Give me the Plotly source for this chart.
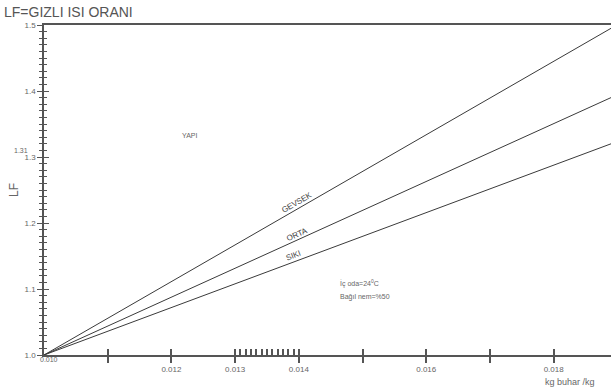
import numpy as np
import plotly.graph_objects as go

# ---- data ----
x_vals = [0.010, 0.0189]           # kg buhar / kg
gevsek = [1.0, 1.495]
orta = [1.0, 1.390]
siki = [1.0, 1.320]

x_tickvals = [0.011, 0.012, 0.013, 0.014, 0.015, 0.016, 0.017, 0.018]
x_ticktext = ["", "0.012", "0.013", "0.014", "", "0.016", "", "0.018"]
x_minor = [0.013 + k / 12 * 0.001 for k in range(1, 12)]
y_tickvals = [1.0, 1.1, 1.2, 1.3, 1.4, 1.5]
y_ticktext = ["1.0", "1.1", "1.2", "1.3", "1.4", "1.5"]

X_RANGE = [0.010, 0.0189]
Y_RANGE = [1.0, 1.5]

LINE_C = "#3a3a3a"
AX_C = "#555555"
TXT_C = "#666666"
FONT = "Liberation Sans, Arial, sans-serif"

fig = go.Figure()
for name, ys in [("GEVŞEK", gevsek), ("ORTA", orta), ("SIKI", siki)]:
    fig.add_trace(go.Scatter(x=x_vals, y=ys, mode="lines", name=name,
                             line=dict(color=LINE_C, width=1), hoverinfo="skip"))

# invisible trace for overlay axes
fig.add_trace(go.Scatter(x=[X_RANGE[0]], y=[Y_RANGE[0]], xaxis="x2", yaxis="y2",
                         mode="markers", marker=dict(opacity=0), showlegend=False,
                         hoverinfo="skip"))

# line labels
for name, ys, xl, angle, shift in [("GEVSEK", gevsek, 0.01397, -30, 7),
                                   ("ORTA", orta, 0.01397, -24, 6),
                                   ("SIKI", siki, 0.01392, -21, 6)]:
    yl = float(np.interp(xl, x_vals, ys))
    fig.add_annotation(x=xl, y=yl, text=name, showarrow=False, textangle=angle,
                       yshift=shift, xanchor="center", yanchor="middle",
                       font=dict(size=8, color="#444", family=FONT))

def note(text, x, y, size=7, xanchor="center", **kw):
    fig.add_annotation(x=x, y=y, text=text, showarrow=False, xanchor=xanchor,
                       yanchor="middle", font=dict(size=size, color=TXT_C, family=FONT),
                       **kw)

note("YAPI", 0.01228, 1.333)
note("İç oda=24<sup>0</sup>C", 0.01461, 1.108, xanchor="left")
note("Bağıl nem=%50", 0.01461, 1.088, xanchor="left")
note("0.010", (49 - 44) / 567, -(359 - 355) / 330, xref="paper", yref="paper")
note("1.31", (21 - 44) / 567, 1.31, xref="paper")
note("LF", (14 - 44) / 567, 1.25, size=12, xref="paper", textangle=-90)
note("kg buhar /kg", (570 - 44) / 567, -(382 - 355) / 330, size=9,
     xref="paper", yref="paper")

fig.update_layout(
    width=611, height=392,
    margin=dict(l=44, r=0, t=25, b=37),
    paper_bgcolor="white", plot_bgcolor="white",
    showlegend=False,
    title=dict(text="LF=GIZLI ISI ORANI", x=4 / 611, xanchor="left", xref="container",
               y=1 - 12 / 392, yanchor="middle", yref="container",
               font=dict(size=14, color="#555", family=FONT)),
    xaxis=dict(range=X_RANGE, showgrid=False, zeroline=False, showline=True,
               linecolor=AX_C, linewidth=1.5, mirror=True,
               tickvals=x_tickvals, ticktext=x_ticktext, ticks="outside",
               ticklen=6, tickwidth=1.5, tickcolor=AX_C,
               tickfont=dict(size=8, color=TXT_C, family=FONT)),
    xaxis2=dict(range=X_RANGE, overlaying="x", anchor="y", side="bottom",
                showgrid=False, zeroline=False, showline=False,
                tickvals=x_tickvals + x_minor, ticks="inside", ticklen=6,
                tickwidth=1.5, tickcolor=AX_C, showticklabels=False),
    yaxis=dict(range=Y_RANGE, showgrid=False, zeroline=False, showline=True,
               linecolor=AX_C, linewidth=1.5,
               tickvals=y_tickvals, ticktext=y_ticktext, ticks="outside",
               ticklen=5, tickwidth=1, tickcolor=AX_C,
               minor=dict(dtick=0.01, ticks="outside", ticklen=3, tickcolor=AX_C,
                          tickwidth=1),
               tickfont=dict(size=8, color=TXT_C, family=FONT)),
    yaxis2=dict(range=Y_RANGE, overlaying="y", anchor="x", side="left",
                showgrid=False, zeroline=False, showline=False,
                tickvals=y_tickvals, ticks="inside", ticklen=5, tickwidth=1,
                tickcolor=AX_C, showticklabels=False,
                minor=dict(dtick=0.01, ticks="inside", ticklen=3, tickcolor=AX_C,
                           tickwidth=1)),
)

fig.write_html("out.html")
